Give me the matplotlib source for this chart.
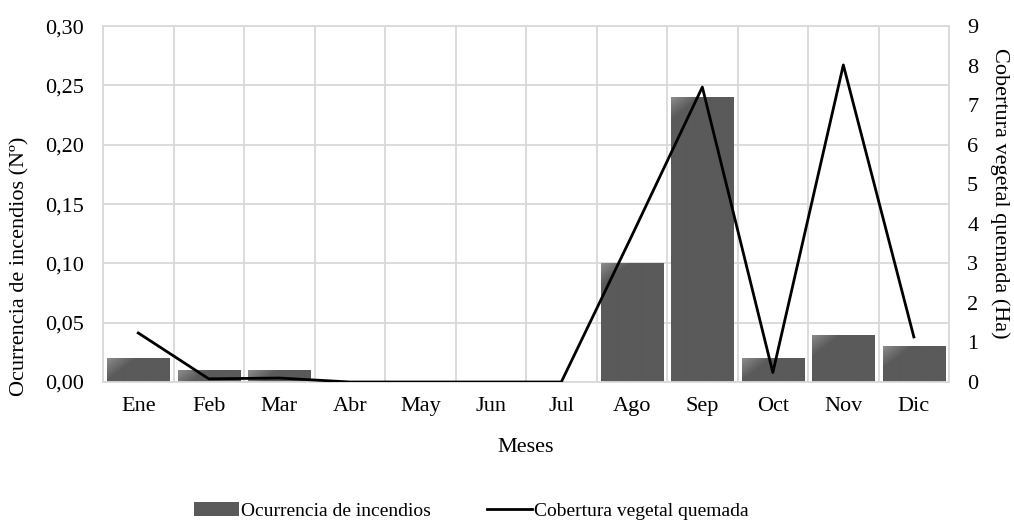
import matplotlib
matplotlib.use("Agg")
import matplotlib.pyplot as plt
import numpy as np
from matplotlib.ticker import FuncFormatter, FixedLocator
from matplotlib.lines import Line2D
from matplotlib.patches import Patch

meses = ["Ene", "Feb", "Mar", "Abr", "May", "Jun", "Jul", "Ago", "Sep", "Oct", "Nov", "Dic"]
ocurrencia = [0.02, 0.01, 0.01, 0, 0, 0, 0, 0.10, 0.24, 0.02, 0.04, 0.03]
cobertura = [1.24, 0.08, 0.10, 0.0, 0.0, 0.0, 0.0, 3.7, 7.46, 0.24, 8.02, 1.14]

plt.rcParams['font.family'] = ['Liberation Serif', 'DejaVu Serif']
fs = 16
fs_leg = 14
dark = np.array([0x5a, 0x5a, 0x5a]) / 255
light = np.array([0x8c, 0x8c, 0x8c]) / 255

fig = plt.figure(figsize=(10.14, 5.24), dpi=100)
ax = fig.add_axes([0.1016, 0.271, 0.8344, 0.679])
x = np.arange(len(meses))
bars = ax.bar(x, ocurrencia, width=0.88, color=dark, zorder=2)
ax.set_xlim(-0.5, len(meses) - 0.5)
ax.set_ylim(0, 0.30)

# subtle glossy gradient on the top-left corner of each bar
fig.canvas.draw()
for b in bars:
    h = b.get_height()
    if h <= 0:
        continue
    x0, y0 = b.get_x(), b.get_y()
    w = b.get_width()
    p0 = ax.transData.transform((x0, y0))
    p1 = ax.transData.transform((x0 + w, y0 + h))
    wpx = max(int(round(p1[0] - p0[0])), 1)
    hpx = max(int(round(p1[1] - p0[1])), 1)
    yy, xx = np.mgrid[0:hpx, 0:wpx]
    t = np.clip(1 - (xx + yy * 1.3) / 28.0, 0, 1)
    img = dark[None, None, :] + (light - dark)[None, None, :] * t[..., None]
    im = ax.imshow(img, extent=(x0, x0 + w, y0, y0 + h), origin="upper",
                   aspect="auto", zorder=2.1, interpolation="bilinear")
    im.set_clip_path(b)
ax.set_xlim(-0.5, len(meses) - 0.5)
ax.set_ylim(0, 0.30)

ax.set_yticks(np.arange(0, 0.31, 0.05))
ax.yaxis.set_major_formatter(FuncFormatter(lambda v, p: f"{v:.2f}".replace(".", ",")))
ax.set_xticks(x)
ax.set_xticklabels(meses)
ax.xaxis.set_minor_locator(FixedLocator(np.arange(-0.5, len(meses), 1.0)))
ax.grid(True, which="minor", axis="x", color="#d9d9d9", lw=1.3, zorder=0)
ax.grid(True, which="major", axis="y", color="#d9d9d9", lw=1.3, zorder=0)
ax.set_axisbelow(True)
ax.tick_params(which="both", length=0, labelsize=fs, colors="black")
ax.tick_params(axis="x", pad=11)
ax.tick_params(axis="y", pad=14)
for s in ax.spines.values():
    s.set_color("#d9d9d9")
    s.set_linewidth(1.3)
ax.set_xlabel("Meses", fontsize=fs, labelpad=16)
ax.set_ylabel("Ocurrencia de incendios (Nº)", fontsize=fs)
ax.yaxis.set_label_coords(-0.087, 0.326)

ax2 = ax.twinx()
ax2.plot(x, cobertura, color="black", lw=2, zorder=3)
ax2.set_ylim(0, 9)
ax2.set_yticks(range(0, 10))
ax2.tick_params(length=0, labelsize=fs, pad=13)
for s in ax2.spines.values():
    s.set_visible(False)
ax2.set_ylabel("Cobertura vegetal quemada (Ha)", fontsize=fs, rotation=270)
ax2.yaxis.set_label_coords(1.072, 0.531)

handles = [Patch(facecolor=dark, label="Ocurrencia de incendios"),
           Line2D([0], [0], color="black", lw=2, label="Cobertura vegetal quemada")]
fig.legend(handles=handles, loc="center", bbox_to_anchor=(0.465, 0.025), ncol=2,
           frameon=False, fontsize=fs_leg, handlelength=2.3, handletextpad=0.1,
           columnspacing=2.9)

fig.savefig("out.png", dpi=100)
